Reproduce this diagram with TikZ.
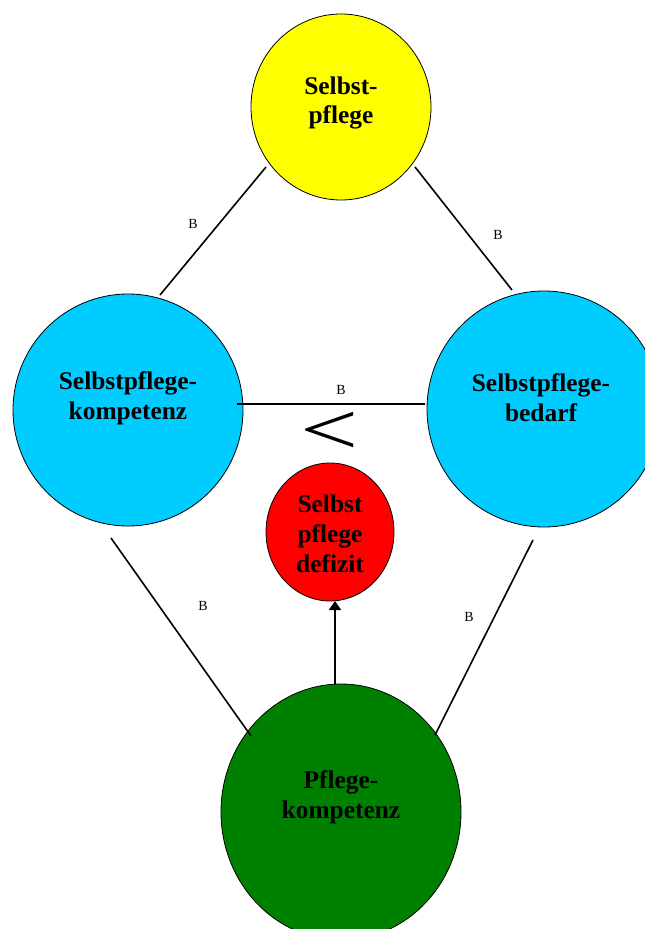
\documentclass[tikz,border=0pt]{standalone}
\usepackage{fontspec}
\setmainfont{Liberation Serif}
\usetikzlibrary{arrows.meta,shapes.geometric}
\definecolor{skyc}{HTML}{00CCFF}
\definecolor{dkgreen}{HTML}{008000}
\definecolor{yel}{HTML}{FFFF00}
\definecolor{rd}{HTML}{FF0000}
\begin{document}
\begin{tikzpicture}[x=1bp,y=-1bp,
  disc/.style={ellipse,draw=black,line width=0.8bp,inner sep=0pt},
  ctext/.style={font=\bfseries\fontsize{25.5}{30}\selectfont,align=center,inner sep=0pt},
  rel/.style={draw=black,line width=1.6bp},
  blabel/.style={font=\fontsize{14}{16}\selectfont,inner sep=0pt}]
\useasboundingbox (0,0) rectangle (645,929);
% circles
\node[disc,fill=yel,minimum width=180bp,minimum height=186bp] (yel) at (341,107) {};
\node[disc,fill=skyc,minimum width=230bp,minimum height=232bp] (lb) at (128,410) {};
\node[disc,fill=skyc,minimum width=234bp,minimum height=236bp] (rb) at (544,409) {};
\node[disc,fill=rd,minimum width=128bp,minimum height=138bp] (red) at (330,532) {};
\node[disc,fill=dkgreen,minimum width=240bp,minimum height=256bp] (gr) at (341,812) {};
% texts
\node[ctext] (tyel) at ([shift={(0,-4)}]yel.center) {Selbst-\\pflege};
\node[ctext] (tlb) at ([shift={(0,-12)}]lb.center) {Selbstpflege-\\kompetenz};
\node[ctext] (trb) at ([shift={(-3,-11)}]rb.center) {Selbstpflege-\\bedarf};
\node[ctext] (tred) at ([shift={(0,2)}]red.center) {Selbst\\pflege\\defizit};
\node[ctext] (tgr) at ([shift={(0,-15)}]gr.center) {Pflege-\\kompetenz};
% connectors
\draw[rel] ([shift={(-75,60)}]yel.center) -- ([shift={(32,-115)}]lb.center);
\draw[rel] ([shift={(74,60)}]yel.center) -- ([shift={(-32,-119)}]rb.center);
\draw[rel] ([shift={(109,-6)}]lb.center) -- ([shift={(-119,-5)}]rb.center);
\draw[rel] ([shift={(-17,128)}]lb.center) -- ([shift={(-90,-76)}]gr.center);
\draw[rel] ([shift={(-11,131)}]rb.center) -- ([shift={(94,-77)}]gr.center);
\draw[rel,-{Triangle[width=12bp,length=9bp]}] ([shift={(-6,-128)}]gr.center) -- ([shift={(5,69)}]red.center);
% labels
\node[blabel] (b1) at (193,224) {B};
\node[blabel] (b2) at (498,235) {B};
\node[blabel] (b3) at (341,390) {B};
\node[blabel] (b4) at (203,606) {B};
\node[blabel] (b5) at (469,617) {B};
\node[font=\fontsize{74}{74}\selectfont,xscale=1.4,inner sep=0pt] (lt) at (330,433) {<};
\end{tikzpicture}
\end{document}
